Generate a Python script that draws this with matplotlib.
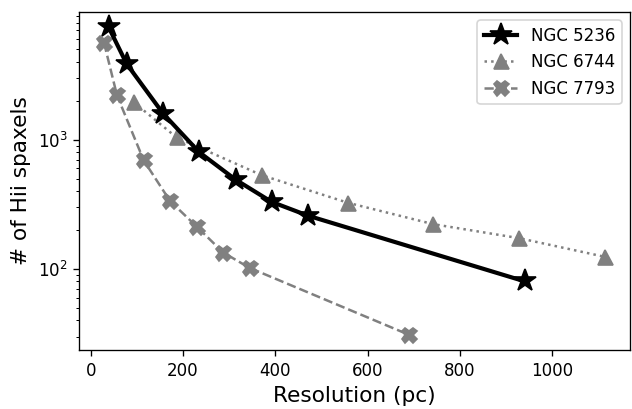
import matplotlib
matplotlib.use("Agg")
import matplotlib.pyplot as plt

# resolution (pc) and number of HII spaxels per galaxy
res_5236 = [39, 78, 157, 235, 314, 392, 471, 941]
n_5236 = [7400, 3850, 1590, 800, 490, 330, 258, 80]

res_6744 = [93, 186, 371, 557, 742, 928, 1114]
n_6744 = [1950, 1040, 530, 325, 222, 173, 124]

res_7793 = [29, 57, 115, 172, 230, 287, 344, 689]
n_7793 = [5600, 2200, 690, 335, 212, 134, 102, 31]

DPI = 120


def main():
    fig = plt.figure(figsize=(632 / DPI, 409 / DPI), dpi=DPI)
    ax = fig.add_axes([0.125, 0.144, 0.872, 0.827])

    ax.plot(res_5236, n_5236, color="black", linestyle="-", linewidth=2.5,
            marker="*", markersize=14, label="NGC 5236", zorder=3)
    ax.plot(res_6744, n_6744, color="gray", linestyle=":", linewidth=1.5,
            marker="^", markersize=9, label="NGC 6744")
    ax.plot(res_7793, n_7793, color="gray", linestyle="--", linewidth=1.5,
            marker="X", markersize=9, label="NGC 7793")

    ax.set_yscale("log")
    ax.set_xlabel("Resolution (pc)", fontsize=13)
    ax.set_ylabel("# of Hii spaxels", fontsize=13)
    ax.tick_params(labelsize=10)
    ax.legend(loc="upper right", fontsize=10)

    fig.savefig("out.png", dpi=DPI)
    plt.close(fig)


if __name__ == "__main__":
    main()
